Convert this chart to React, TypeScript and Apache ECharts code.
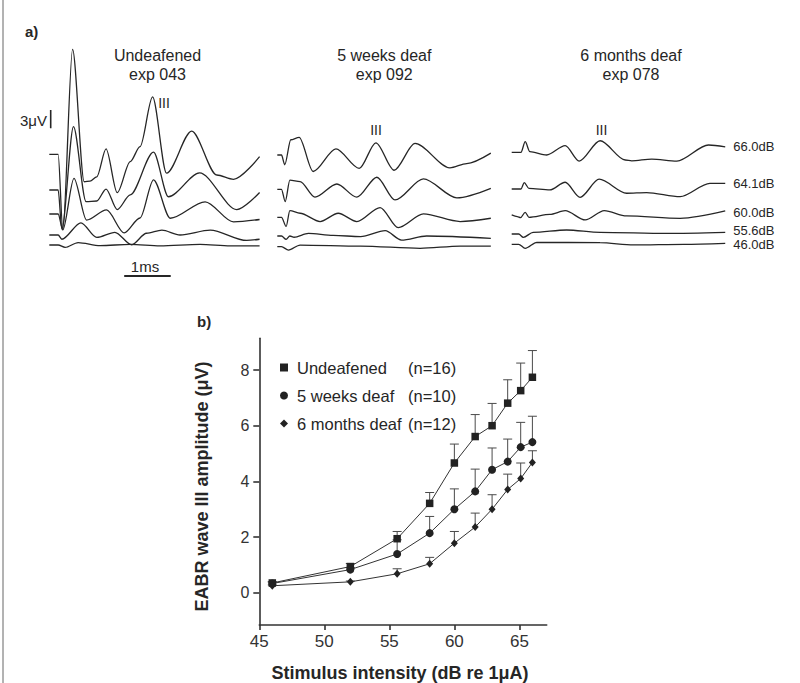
import React, { useEffect, useRef } from "react";
import * as echarts from "echarts";

// ---------- Panel a: EABR traces (time in ms, deflection in μV from each trace baseline) ----------
const groupTitles = ["Undeafened", "5 weeks deaf", "6 months deaf"];
const groupExps = ["exp 043", "exp 092", "exp 078"];
const traceLevels = ["66.0dB", "64.1dB", "60.0dB", "55.6dB", "46.0dB"];

// stacking offsets (μV) of the five traces in each group
const offsetsUndeafened = [22.25, 16.39, 12.46, 9.02, 7.38];
const offsets5Weeks = [22.13, 16.51, 11.92, 8.85, 7.1];
const offsets6Months = [22.57, 16.56, 12.3, 9.18, 7.49];

const tracesUndeafened = [
  [[0, 0], [0.19, 0], [0.29, -12.4], [0.5, 17.2], [0.75, -4.5], [0.875, -4.4], [1.02, -3.7], [1.22, 0.87], [1.46, -6.3], [1.74, -1.2], [1.95, 1.25], [2.22, 9.4], [2.52, -3.1], [3.06, 3.8], [3.6, -3.4], [3.96, -4.1], [4.52, -0.4]],
  [[0, 0], [0.19, 0], [0.27, -6.4], [0.52, 10.4], [0.79, -1.9], [1.02, -1.8], [1.22, 0.16], [1.46, -3.2], [1.74, -0.8], [2.24, 6.2], [2.56, -1.1], [3.23, 2.8], [4.03, -3.2], [4.52, -0.4]],
  [[0, 0], [0.19, 0], [0.29, -2.6], [0.53, 5.85], [0.8, -1.0], [1.23, 0.66], [1.61, -3.1], [1.95, -0.66], [2.24, 5.6], [2.6, -0.7], [3.35, 2.0], [3.96, -1.3], [4.52, -0.9]],
  [[0, 0], [0.19, 0], [0.27, -0.7], [0.68, 2.0], [1.02, -0.4], [1.41, 0.44], [1.77, -1.6], [2.09, 0.28], [2.42, 0.8], [2.81, 0], [3.46, 0.8], [4.24, -0.9], [4.52, -0.7]],
  [[0, 0], [0.19, 0], [0.34, -0.4], [0.62, 0.4], [1.09, -0.1], [1.74, 0.1], [2.38, -0.15], [3.24, 0.1], [3.89, -0.15], [4.52, -0.15]],
];

const traces5Weeks = [
  [[0, 0], [0.09, 0], [0.16, -1.6], [0.29, 2.5], [0.47, 2.9], [0.77, -2.7], [1.26, 1.0], [1.76, -2.2], [2.12, 2.0], [2.51, -2.5], [2.96, 1.9], [3.71, -2.1], [4.07, -1.4], [4.59, 0.3]],
  [[0, 0], [0.09, 0], [0.17, -2.0], [0.27, 1.5], [0.49, 1.25], [0.81, -1.3], [1.28, 0.87], [1.71, -1.3], [2.14, 1.97], [2.53, -1.75], [3.14, 1.7], [3.86, -1.4], [4.59, 0.16]],
  [[0, 0], [0.09, 0], [0.19, -1.5], [0.27, 1.1], [0.49, 0.66], [0.92, -0.7], [1.31, 0.66], [1.71, -0.7], [2.21, 1.6], [2.6, -1.7], [3.14, 0.55], [3.93, -0.7], [4.59, -0.16]],
  [[0, 0], [0.09, 0], [0.19, -0.55], [0.27, 0], [0.36, -0.2], [0.67, 0.44], [1.2, 0.1], [1.79, -0.1], [2.32, 0.87], [2.67, -0.66], [3.21, 0], [4.59, -0.38]],
  [[0, 0], [0.09, 0], [0.24, -0.55], [0.49, 0.27], [1.79, 0.1], [3.07, -0.27], [3.93, 0.1], [4.59, 0.1]],
];

const traces6Months = [
  [[0, 0], [0.2, 0], [0.29, 1.74], [0.39, 0.1], [0.75, -0.44], [1.15, 1.1], [1.45, -1.43], [1.9, 1.9], [2.44, -1.26], [2.58, -1.4], [3.01, -1.1], [3.55, -1.43], [4.23, 1.2], [4.59, 0.9]],
  [[0, 0], [0.2, 0], [0.27, 1.03], [0.37, 0.1], [0.82, -0.16], [1.15, 1.1], [1.47, -1.36], [1.88, 1.6], [2.47, -0.7], [2.9, -0.6], [3.62, -1.26], [4.26, 0.93], [4.59, 0.93]],
  [[0, 0], [0.12, -0.27], [0.19, -0.45], [0.29, 0.44], [0.37, -0.38], [0.82, 0.1], [1.15, 0.7], [1.58, -0.82], [1.99, 0.7], [2.47, -0.16], [3.62, -0.55], [4.59, 0.66]],
  [[0, 0], [0.15, 0], [0.25, -0.55], [0.46, 0.27], [1.18, 0.66], [1.9, 0.27], [3.33, 0.1], [4.59, 0.27]],
  [[0, 0], [0.15, 0], [0.29, -0.66], [0.54, 0.33], [1.9, 0.27], [2.62, -0.1], [3.7, 0], [4.59, 0.16]],
];

// ---------- Panel b: wave III amplitude vs stimulus intensity ----------
const intensityDb = [46, 52, 55.6, 58.1, 60, 61.6, 62.9, 64.1, 65.1, 66.0];
const seriesNames = ["Undeafened", "5 weeks deaf", "6 months deaf"];
const seriesCounts = ["(n=16)", "(n=10)", "(n=12)"];
const ampUndeafened = [0.35, 0.94, 1.94, 3.21, 4.66, 5.61, 6.0, 6.81, 7.26, 7.74];
const errTopUndeafened = [0.4, 1.05, 2.2, 3.6, 5.34, 6.4, 6.8, 7.65, 8.25, 8.7];
const amp5Weeks = [0.33, 0.83, 1.39, 2.14, 3.0, 3.64, 4.42, 4.71, 5.23, 5.41];
const errTop5Weeks = [0.38, 0.9, 1.9, 2.74, 3.73, 4.44, 5.2, 5.52, 6.12, 6.34];
const amp6Months = [0.25, 0.39, 0.68, 1.04, 1.78, 2.36, 3.0, 3.71, 4.1, 4.68];
const errTop6Months = [0.28, 0.42, 0.86, 1.27, 2.2, 2.86, 3.52, 4.26, 4.66, 5.1];
const xTicks = [45, 50, 55, 60, 65];
const yTicks = [0, 2, 4, 6, 8];

const FONT = '"Liberation Sans", Arial, Helvetica, sans-serif';
const INK = "#262626";

export default function App() {
  const ref = useRef<HTMLDivElement>(null);

  useEffect(() => {
    if (!ref.current) return;
    const chart = echarts.init(ref.current, undefined, { renderer: "svg" });

    const groupLefts = [49.3, 277.3, 511.7];
    const groupTraces = [tracesUndeafened, traces5Weeks, traces6Months];
    const groupOffsets = [offsetsUndeafened, offsets5Weeks, offsets6Months];

    const grids: any[] = groupLefts.map((l) => ({ left: l, top: 40, width: 214, height: 250 }));
    grids.push({ left: 259.3, top: 338.3, width: 287.4, height: 286.7 });

    const xAxes: any[] = groupLefts.map((_, i) => ({ gridIndex: i, type: "value", min: 0, max: 4.6, show: false }));
    const yAxes: any[] = groupLefts.map((_, i) => ({ gridIndex: i, type: "value", min: 0, max: 250 / 6.1, show: false }));

    const axisColor = "#333";
    xAxes.push({
      gridIndex: 3,
      type: "value",
      min: 45,
      max: 67.1,
      axisLine: { show: true, onZero: false, lineStyle: { color: axisColor, width: 1.6 } },
      axisTick: { show: true, length: 5, customValues: xTicks, lineStyle: { color: axisColor, width: 1.6 } },
      axisLabel: { customValues: xTicks, fontSize: 17, color: "#333", margin: 8, fontFamily: FONT },
      splitLine: { show: false },
    });
    yAxes.push({
      gridIndex: 3,
      type: "value",
      min: -1.16,
      max: 9.14,
      axisLine: { show: true, onZero: false, lineStyle: { color: axisColor, width: 1.6 } },
      axisTick: { show: true, length: 6, customValues: yTicks, lineStyle: { color: axisColor, width: 1.6 } },
      axisLabel: { customValues: yTicks, fontSize: 16, color: "#333", margin: 10, fontFamily: FONT },
      splitLine: { show: false },
    });

    const series: any[] = [];
    groupTraces.forEach((traces, g) => {
      traces.forEach((tr, k) => {
        series.push({
          type: "line",
          xAxisIndex: g,
          yAxisIndex: g,
          data: tr.map(([t, v]) => [t, v + groupOffsets[g][k]]),
          showSymbol: false,
          symbol: "none",
          smooth: 0.3,
          smoothMonotone: "x",
          silent: true,
          lineStyle: { color: INK, width: 1.3 },
          z: 2,
        });
      });
    });

    // scale bars (3 μV vertical, 1 ms horizontal) in the first group's scale
    series.push({
      type: "line", xAxisIndex: 0, yAxisIndex: 0, silent: true, symbol: "none",
      data: [[0.03, 26.51], [0.03, 26.51 + 3]],
      lineStyle: { color: INK, width: 1.6 },
    });
    series.push({
      type: "line", xAxisIndex: 0, yAxisIndex: 0, silent: true, symbol: "none",
      data: [[1.61, 2.3], [1.61 + 1, 2.3]],
      lineStyle: { color: INK, width: 2 },
    });

    const amps = [ampUndeafened, amp5Weeks, amp6Months];
    const tops = [errTopUndeafened, errTop5Weeks, errTop6Months];
    const symbols = ["rect", "circle", "diamond"];
    const sizes: any[] = [7.5, 8, [7, 8]];

    amps.forEach((a, s) => {
      series.push({
        type: "custom",
        xAxisIndex: 3,
        yAxisIndex: 3,
        silent: true,
        z: 2,
        data: intensityDb.map((d, i) => [d, a[i], tops[s][i]]),
        encode: { x: 0, y: [1, 2] },
        renderItem: (params: any, api: any) => {
          const p0 = api.coord([api.value(0), api.value(1)]);
          const p1 = api.coord([api.value(0), api.value(2)]);
          const st = { stroke: "#4a4a4a", lineWidth: 1 };
          return {
            type: "group",
            children: [
              { type: "line", shape: { x1: p0[0], y1: p0[1], x2: p1[0], y2: p1[1] }, style: st },
              { type: "line", shape: { x1: p1[0] - 4.5, y1: p1[1], x2: p1[0] + 4.5, y2: p1[1] }, style: st },
            ],
          };
        },
      });
    });
    amps.forEach((a, s) => {
      series.push({
        name: seriesNames[s],
        type: "line",
        xAxisIndex: 3,
        yAxisIndex: 3,
        data: intensityDb.map((d, i) => [d, a[i]]),
        symbol: symbols[s],
        symbolSize: sizes[s],
        showSymbol: true,
        lineStyle: { color: "#333", width: 1 },
        itemStyle: { color: "#222" },
        z: 3,
      });
    });

    const txt = (x: number, y: number, text: string, size: number, align = "center", bold = false, extra: any = {}) => ({
      type: "text",
      x,
      y,
      silent: true,
      ...extra,
      style: {
        text,
        fill: INK,
        font: `${bold ? "bold " : ""}${size}px ${FONT}`,
        align,
        textAlign: align,
        verticalAlign: "middle",
        textVerticalAlign: "middle",
      },
    });

    const titleCenters = [157.5, 384.3, 631];
    const levelYs = [146, 183.7, 212, 230, 244.3];
    const graphics: any[] = [
      { type: "line", silent: true, shape: { x1: 3, y1: 0, x2: 3, y2: 683 }, style: { stroke: "#666", lineWidth: 1 } },
      txt(25, 31, "a)", 15, "left", true),
      txt(197, 321.7, "b)", 15, "left", true),
      txt(47, 120, "3μV", 15, "right"),
      txt(145, 266.7, "1ms", 15, "center"),
      txt(164, 103, "III", 14),
      txt(376, 130, "III", 14),
      txt(601.5, 129.5, "III", 14),
      txt(400, 672.5, "Stimulus intensity (dB re 1μA)", 18, "center", true),
      txt(202, 486.5, "EABR wave III amplitude (μV)", 18, "center", true, { rotation: Math.PI / 2 }),
    ];
    titleCenters.forEach((cx, i) => {
      graphics.push(txt(cx, 55.8, groupTitles[i], 16));
      graphics.push(txt(cx, 74.8, groupExps[i], 16));
    });
    traceLevels.forEach((lv, i) => graphics.push(txt(733.3, levelYs[i], lv, 13, "left")));

    chart.setOption({
      animation: false,
      backgroundColor: "#ffffff",
      grid: grids,
      xAxis: xAxes,
      yAxis: yAxes,
      legend: {
        orient: "vertical",
        left: 275,
        top: 354,
        itemWidth: 8,
        itemHeight: 8,
        itemGap: 11,
        selectedMode: false,
        data: seriesNames.map((n, i) => ({ name: n, icon: symbols[i] })),
        formatter: (name: string) => {
          const i = seriesNames.indexOf(name);
          return `{a|${name}}{b|${seriesCounts[i]}}`;
        },
        textStyle: {
          color: INK,
          fontSize: 16.5,
          fontFamily: FONT,
          padding: [0, 0, 0, 4],
          rich: {
            a: { width: 111, fontSize: 16.5, fontFamily: FONT, color: INK },
            b: { fontSize: 16.5, fontFamily: FONT, color: INK },
          },
        },
      },
      graphic: graphics,
      series,
    });

    return () => chart.dispose();
  }, []);

  return (
    <div
      ref={ref}
      style={{ position: "absolute", left: 0, top: 0, width: 800, height: 683, background: "#fff" }}
    />
  );
}
